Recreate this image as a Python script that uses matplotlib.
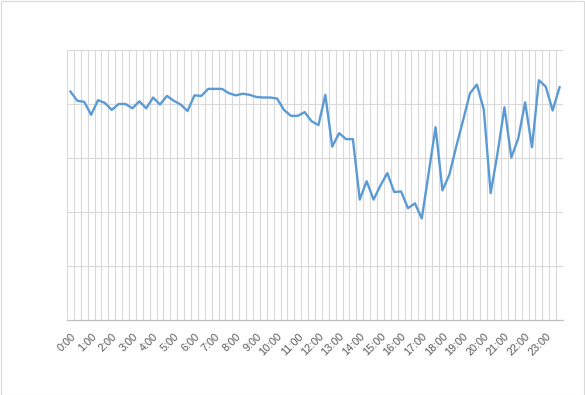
import numpy as np
import matplotlib
matplotlib.use('Agg')
import matplotlib.pyplot as plt
from matplotlib.patches import Rectangle

# one value every 20 minutes, 0:00 .. 23:40
values = [4.23, 4.06, 4.04, 3.80, 4.07, 4.02, 3.89, 4.00, 4.00, 3.92,
          4.05, 3.92, 4.12, 3.99, 4.15, 4.06, 3.99, 3.87, 4.16, 4.15,
          4.28, 4.28, 4.28, 4.20, 4.16, 4.19, 4.17, 4.13, 4.12, 4.12,
          4.10, 3.89, 3.78, 3.78, 3.85, 3.68, 3.61, 4.17, 3.21, 3.46,
          3.35, 3.35, 2.23, 2.57, 2.23, 2.49, 2.72, 2.37, 2.38, 2.07,
          2.16, 1.88, 2.72, 3.57, 2.40, 2.69, 3.21, 3.70, 4.20, 4.36,
          3.90, 2.35, 3.09, 3.94, 3.01, 3.36, 4.03, 3.20, 4.44, 4.32,
          3.88, 4.31]
hour_labels = ['%d:00' % h for h in range(24)]

n = len(values)
x = np.arange(n)

fig = plt.figure(figsize=(5.85, 3.95), dpi=100)
ax = fig.add_axes([67/585, 1-320/395, (563-67)/585, (320-50)/395])

grid_c = '#d9d9d9'
ax.plot(x, values, color='#5b9bd5', lw=1.7, zorder=3)

ax.set_xlim(-0.5, n-0.5)
ax.set_ylim(0, 5)

# category boundaries as vertical gridlines
for b in np.arange(-0.5, n, 1):
    ax.axvline(b, color=grid_c, lw=0.8, zorder=1)
for yv in range(1, 6):
    ax.axhline(yv, color=grid_c, lw=0.8, zorder=1)

ax.set_yticks([])
ax.set_xticks(np.arange(0, n, 3))
ax.set_xticklabels(hour_labels, rotation=45, ha='right', rotation_mode='anchor',
                   fontsize=7.8, color='#595959', family='Liberation Sans')
ax.tick_params(axis='x', length=0, pad=8)

for s in ['top', 'right', 'left']:
    ax.spines[s].set_visible(False)
ax.spines['bottom'].set_color('#bfbfbf')
ax.spines['bottom'].set_linewidth(0.9)

# chart area border
fig.patches.append(Rectangle((0.5/585, 0.5/395), 1-1.5/585, 1-1.5/395,
                             transform=fig.transFigure, fill=False,
                             edgecolor='#d9d9d9', lw=0.8))

fig.savefig('out.png', dpi=100)
